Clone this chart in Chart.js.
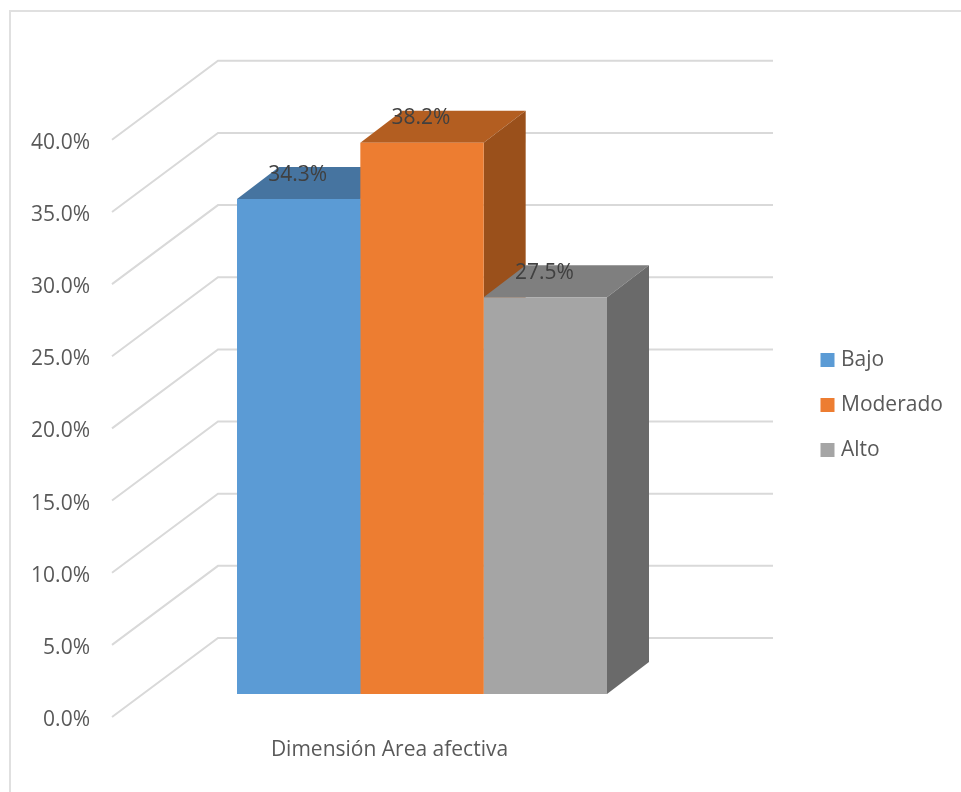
<!DOCTYPE html>
<html>
<head>
<meta charset="utf-8">
<style>
  html, body { margin: 0; padding: 0; background: #fff; overflow: hidden; }
  canvas { display: block; }
</style>
<script src="https://cdn.jsdelivr.net/npm/chart.js@4"></script>
</head>
<body>
<canvas id="chart" width="961" height="792"></canvas>
<script>
// Data
const arrCategories = ['Dimensión Area afectiva'];
const arrSeriesNames = ['Bajo', 'Moderado', 'Alto'];
const arrBajo = [34.3];
const arrModerado = [38.2];
const arrAlto = [27.5];
const arrTickValues = [0, 5, 10, 15, 20, 25, 30, 35, 40];

// Colours: front, top and side of each box
const arrFront = ['#5b9bd5', '#ed7d31', '#a5a5a5'];
const arrTop = ['#4674a0', '#b35e21', '#7f7f7f'];
const arrSide = ['#3f6a91', '#9a501b', '#6a6a6a'];

// Fake 3D depth, in pixels
const nUnitPx = 14.43;     // height of 1% on the vertical axis
const nWallDx = 106, nWallDy = 79; // floor front edge -> back wall
const nBoxDx = 42, nBoxDy = 32;    // depth of the boxes
const nBarLift = 23;       // front of the boxes sits this far above the axis zero

const strFont = '"Open Sans", sans-serif';
const strGrid = '#d9d9d9';
const strText = '#595959';

function line(ctx, arrPts) {
    ctx.beginPath();
    arrPts.forEach((p, i) => i ? ctx.lineTo(p[0], p[1]) : ctx.moveTo(p[0], p[1]));
    ctx.stroke();
}

function poly(ctx, arrPts, strColor) {
    ctx.beginPath();
    arrPts.forEach((p, i) => i ? ctx.lineTo(p[0], p[1]) : ctx.moveTo(p[0], p[1]));
    ctx.closePath();
    ctx.fillStyle = strColor;
    ctx.fill();
}

const plugin3D = {
    id: 'fake3d',
    afterLayout(chart) {
        // Place the legend to the right of the walls
        const legend = chart.legend;
        legend.left = 800.5;
        legend.right = 961;
        legend.top = 325.5;
        legend.bottom = 500;
    },
    beforeDatasetsDraw(chart) {
        const { ctx, chartArea } = chart;
        const y = chart.scales.y;
        ctx.save();

        // Frame of the picture, open towards the right and the bottom
        ctx.strokeStyle = '#e0e0e0';
        ctx.lineWidth = 2;
        line(ctx, [[10, 800], [10, 11], [970, 11]]);

        // Grid: side wall diagonal, then back wall
        ctx.strokeStyle = strGrid;
        ctx.lineWidth = 2;
        for (const nTick of arrTickValues) {
            const nY = y.getPixelForValue(nTick);
            line(ctx, [
                [chartArea.left, nY],
                [chartArea.left + nWallDx, nY - nWallDy],
                [chartArea.right + 41, nY - nWallDy]
            ]);
        }

        // Top and side of each box, left to right so that later boxes cover earlier ones
        chart.data.datasets.forEach((_, i) => {
            const bar = chart.getDatasetMeta(i).data[0];
            const nL = bar.x - bar.width / 2, nR = bar.x + bar.width / 2;
            poly(ctx, [[nL, bar.y], [nR, bar.y], [nR + nBoxDx, bar.y - nBoxDy], [nL + nBoxDx, bar.y - nBoxDy]], arrTop[i]);
            poly(ctx, [[nR, bar.y], [nR + nBoxDx, bar.y - nBoxDy], [nR + nBoxDx, bar.base - nBoxDy], [nR, bar.base]], arrSide[i]);
        });
        ctx.restore();
    },
    afterDatasetsDraw(chart) {
        // Value labels sit on the top of each box
        const { ctx } = chart;
        ctx.save();
        ctx.font = '21px ' + strFont;
        ctx.fillStyle = '#404040';
        ctx.textAlign = 'center';
        ctx.textBaseline = 'middle';
        chart.data.datasets.forEach((ds, i) => {
            const bar = chart.getDatasetMeta(i).data[0];
            ctx.fillText(ds.data[0].toFixed(1) + '%', bar.x - 1, bar.y - 24.5);
        });
        ctx.restore();
    }
};

const arrValues = [arrBajo, arrModerado, arrAlto];

new Chart(document.getElementById('chart').getContext('2d'), {
    type: 'bar',
    data: {
        labels: arrCategories,
        datasets: arrSeriesNames.map((strName, i) => ({
            label: strName,
            data: arrValues[i],
            backgroundColor: arrFront[i],
            yAxisID: 'yBar',
            categoryPercentage: 370 / 620,
            barPercentage: 1
        }))
    },
    options: {
        responsive: false,
        animation: false,
        layout: { padding: { top: 61, right: 229, bottom: 0, left: 0 } },
        plugins: {
            tooltip: { enabled: false },
            legend: {
                position: 'chartArea',
                align: 'start',
                labels: {
                    font: { family: strFont, size: 21 },
                    color: strText,
                    boxWidth: 6,
                    boxHeight: 6,
                    padding: 24,
                    generateLabels: chart => chart.data.datasets.map((ds, i) => ({
                        text: ds.label,
                        fillStyle: arrFront[i],
                        strokeStyle: arrFront[i],
                        fontColor: strText,
                        lineWidth: 8,
                        datasetIndex: i
                    }))
                }
            }
        },
        scales: {
            x: {
                grid: { display: false },
                border: { display: false },
                ticks: {
                    font: { family: strFont, size: 21 },
                    color: strText,
                    padding: 12,
                    labelOffset: -32.5,
                    maxRotation: 0
                },
                afterFit: scale => { scale.height = 75; }
            },
            y: {
                min: 0,
                max: 656 / nUnitPx,
                grid: { display: false },
                border: { display: false },
                ticks: {
                    stepSize: 5,
                    font: { family: strFont, size: 21 },
                    color: strText,
                    padding: 14,
                    labelOffset: 3,
                    callback: v => v.toFixed(1) + '%'
                },
                afterBuildTicks: scale => { scale.ticks = arrTickValues.map(v => ({ value: v })); },
                afterFit: scale => { scale.width = 112; }
            },
            // Hidden axis for the boxes, same unit size but its zero is lifted off the floor edge
            yBar: {
                display: false,
                min: -nBarLift / nUnitPx,
                max: (656 - nBarLift) / nUnitPx
            }
        }
    },
    plugins: [plugin3D]
});
</script>
</body>
</html>
